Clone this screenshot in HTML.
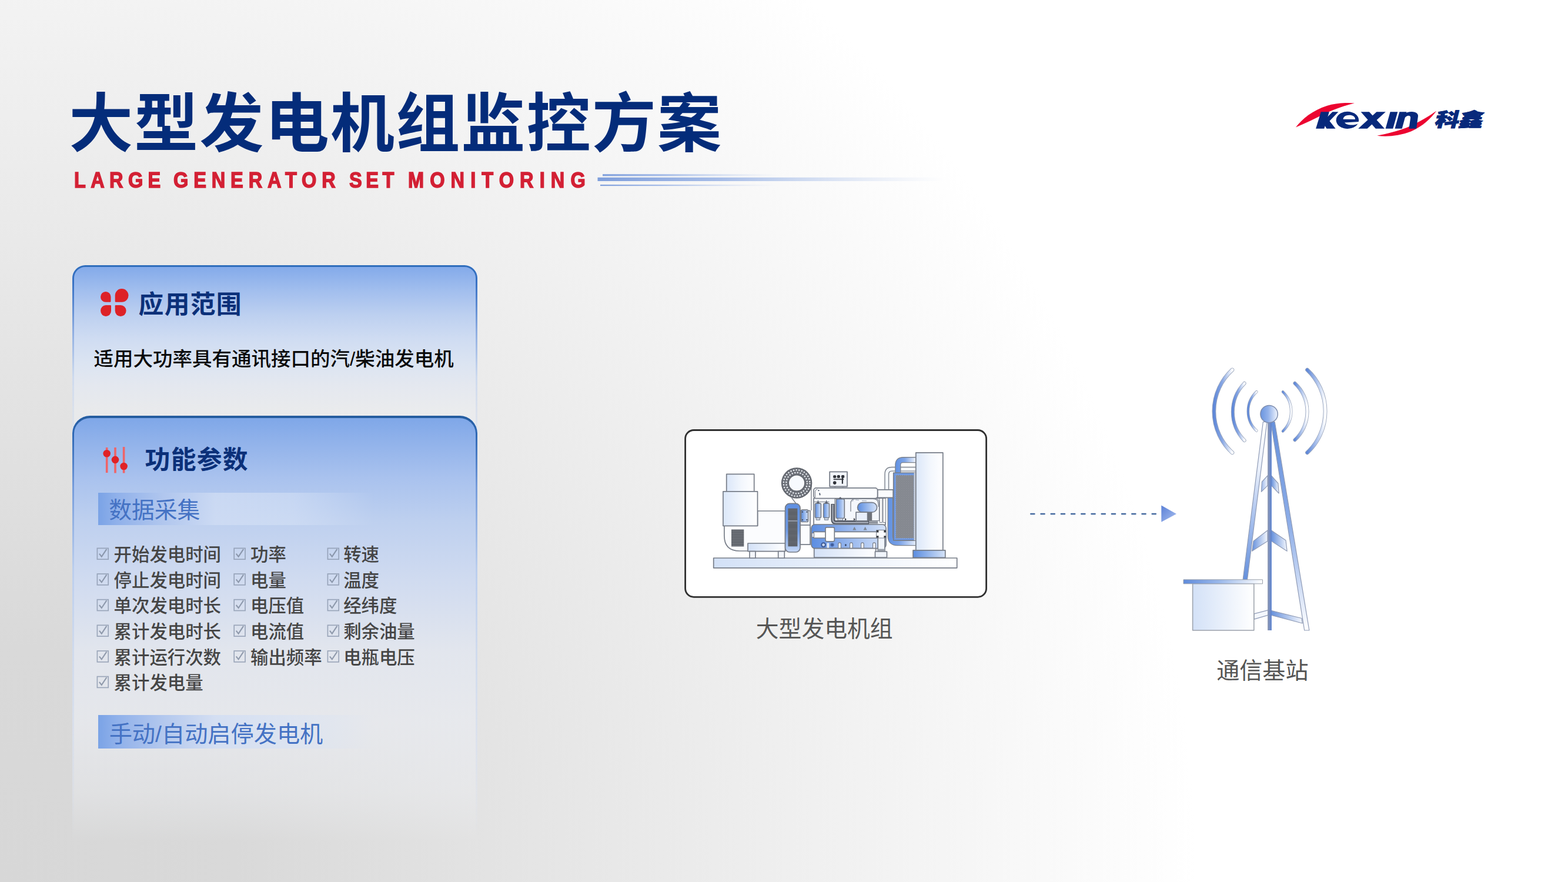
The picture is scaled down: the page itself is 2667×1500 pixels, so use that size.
<!DOCTYPE html>
<html lang="zh-CN">
<head>
<meta charset="utf-8">
<title>大型发电机组监控方案 - Large Generator Set Monitoring</title>
<style>
html,body{margin:0;padding:0;background:#fff}
body{width:2667px;height:1500px;overflow:hidden;font-family:"Liberation Sans",sans-serif}
#slide{position:relative;width:2667px;height:1500px;overflow:hidden;
 background:radial-gradient(circle at 0 1500px,#d7d7d7 0,#d9d9d9 400px,#ffffff 2035px)}
.layer{position:absolute;left:0;top:0;width:2667px;height:1500px;pointer-events:none}
.tl{position:absolute;white-space:nowrap;line-height:1;color:transparent;font-family:"Liberation Sans","Noto Sans CJK SC",sans-serif;margin:0}
.sub{position:absolute;left:0;top:285.6px;margin:0;font-family:"Liberation Sans",sans-serif;font-weight:bold;
 font-size:37px;line-height:42px;color:#d32034;-webkit-text-stroke:1.5px #d32034;white-space:nowrap}
.sub span{position:absolute;top:0;transform:scaleX(.88);transform-origin:0 0}
.panel{position:absolute;left:123.2px;width:689px;box-sizing:border-box;border-radius:22px 22px 0 0}
.panel::before{content:"";position:absolute;inset:0;border-radius:inherit;padding:3.4px 3px 0 3px;
 background:linear-gradient(180deg,#2e6dbb 0,#3a72c4 30px,rgba(90,135,210,.55) 120px,rgba(160,190,235,.4) 260px,rgba(190,208,240,.3) 70%,rgba(200,215,240,0) 94%);
 -webkit-mask:linear-gradient(#000 0 0) content-box,linear-gradient(#000 0 0);-webkit-mask-composite:xor;mask:linear-gradient(#000 0 0) content-box exclude,linear-gradient(#000 0 0)}
#p1{top:450.5px;height:300px;
 background:linear-gradient(180deg,#7fa7e9 0,#85abea 5px,#a3bfee 45px,#bdd0f0 85px,#cfdcf2 125px,#dbe4f2 165px,rgba(228,232,240,.92) 205px,rgba(234,236,239,.75) 245px,rgba(236,237,240,.55) 300px)}
#p1::before{background:linear-gradient(180deg,#2e6dbb 0,#3a72c4 30px,rgba(90,135,210,.55) 110px,rgba(170,195,235,.35) 190px,rgba(205,215,235,.3) 100%)}
#p2{top:706.8px;height:760px;border-radius:30px 30px 0 0;
 background:linear-gradient(180deg,#7da6e8 0,#8fb1ea 40px,#a9c2ee 105px,#bed0ef 180px,#d0dbf0 280px,rgba(226,230,238,.95) 400px,rgba(232,234,239,.8) 520px,rgba(236,238,242,.4) 640px,rgba(238,238,240,0) 725px)}
.bar{position:absolute;left:166.6px;height:55px;
 background:linear-gradient(90deg,#7aa3e6 0,#8fb0ea 30px,rgba(176,198,238,.95) 110px,rgba(208,221,244,.8) 200px,rgba(214,226,246,.55) 330px,rgba(220,230,246,0) 470px)}
#b1{top:838px;width:480px}
#b2{top:1215.5px;width:480px;height:57px}
#p2::before{padding:3.8px 2.6px 0 2.6px;background:linear-gradient(180deg,#245c9e 0,#2f68b4 30px,rgba(80,128,205,.6) 120px,rgba(160,190,235,.4) 260px,rgba(190,208,240,.3) 70%,rgba(200,215,240,0) 94%)}
</style>
</head>
<body>
<div id="slide">
<div class="panel" id="p1"></div>
<div class="panel" id="p2"></div>
<div class="bar" id="b1"></div>
<div class="bar" id="b2"></div>
<svg class="layer" width="2667" height="1500" viewBox="0 0 2667 1500"><defs>
<linearGradient id="ln" x1="0" x2="1"><stop offset="0" stop-color="#7f9fdc"/><stop offset=".35" stop-color="#9db6e6" stop-opacity=".9"/><stop offset="1" stop-color="#c8d6f0" stop-opacity="0"/></linearGradient>
<linearGradient id="lb" x1="0" x2="1"><stop offset="0" stop-color="#d3e1f7"/><stop offset="1" stop-color="#ffffff"/></linearGradient>
<linearGradient id="lb2" x1="0" x2="1"><stop offset="0" stop-color="#dbe7f9"/><stop offset=".55" stop-color="#f3f7fd"/><stop offset="1" stop-color="#ffffff"/></linearGradient>
<linearGradient id="bl" x1="0" x2="1"><stop offset="0" stop-color="#5a8ce0"/><stop offset="1" stop-color="#d5e3f8"/></linearGradient>
<linearGradient id="blv" x1="0" x2="0" y1="0" y2="1"><stop offset="0" stop-color="#5f90e2"/><stop offset=".55" stop-color="#6e9ae4"/><stop offset="1" stop-color="#c6d8f6"/></linearGradient>
<linearGradient id="blk" x1="0" x2="1"><stop offset="0" stop-color="#5b8de1"/><stop offset=".35" stop-color="#84a9ea"/><stop offset="1" stop-color="#d4e2f8"/></linearGradient>
<linearGradient id="pipeU" gradientUnits="userSpaceOnUse" x1="1523" x2="1558" y1="0" y2="0"><stop offset="0" stop-color="#5f90e2"/><stop offset=".45" stop-color="#7ea5e8"/><stop offset="1" stop-color="#f2f6fd"/></linearGradient>
<linearGradient id="pipeL" gradientUnits="userSpaceOnUse" x1="1510" x2="1558" y1="0" y2="0"><stop offset="0" stop-color="#5f90e2"/><stop offset=".4" stop-color="#79a1e7"/><stop offset="1" stop-color="#e6eefb"/></linearGradient>
<linearGradient id="ah" x1="0" x2="1" y1="0" y2="1"><stop offset="0" stop-color="#5a80d6"/><stop offset="1" stop-color="#a9bff0"/></linearGradient>
<linearGradient id="tw" x1="0" x2="1"><stop offset="0" stop-color="#6590dc"/><stop offset="1" stop-color="#f4f7fd"/></linearGradient>
<linearGradient id="twr" x1="0" x2="1"><stop offset="0" stop-color="#9bb7ea"/><stop offset="1" stop-color="#f4f7fd"/></linearGradient>
<linearGradient id="ball" x1="0" x2="1"><stop offset="0" stop-color="#6a95e0"/><stop offset=".45" stop-color="#93b2ea"/><stop offset="1" stop-color="#f1f5fd"/></linearGradient>
<linearGradient id="wv" x1="0" x2="1"><stop offset="0" stop-color="#5f88d8"/><stop offset=".45" stop-color="#86a6e4"/><stop offset="1" stop-color="#ffffff"/></linearGradient>
<linearGradient id="wv2" x1="0" x2="1"><stop offset="0" stop-color="#5f88d8"/><stop offset=".5" stop-color="#a9c0ec"/><stop offset="1" stop-color="#ffffff"/></linearGradient>
<linearGradient id="legL" x1="0" x2="0" y1="0" y2="1"><stop offset="0" stop-color="#ffffff"/><stop offset=".3" stop-color="#eaf0fb"/><stop offset=".6" stop-color="#aac2ee"/><stop offset="1" stop-color="#6590dc"/></linearGradient>
<linearGradient id="legR" x1="0" x2="0" y1="0" y2="1"><stop offset="0" stop-color="#6590dc"/><stop offset=".5" stop-color="#8eaee8"/><stop offset="1" stop-color="#ffffff"/></linearGradient>
<linearGradient id="mast" x1="0" x2="1"><stop offset="0" stop-color="#8f99b1"/><stop offset=".45" stop-color="#7a8fc0"/><stop offset="1" stop-color="#5a83d2"/></linearGradient>
<linearGradient id="roof" x1="0" x2="1"><stop offset="0" stop-color="#5f8bdc"/><stop offset=".45" stop-color="#9ab8ea"/><stop offset="1" stop-color="#ffffff"/></linearGradient>
<linearGradient id="wvL" x1="0" x2="0" y1="0" y2="1"><stop offset="0" stop-color="#dfe8f8"/><stop offset=".5" stop-color="#6f95dc"/><stop offset="1" stop-color="#9cb7e8"/></linearGradient>
<linearGradient id="wvR" x1="0" x2="0" y1="0" y2="1"><stop offset="0" stop-color="#6f95dc"/><stop offset=".5" stop-color="#e3ebf9"/><stop offset="1" stop-color="#6f95dc"/></linearGradient>
<pattern id="hatch" width="3" height="3" patternUnits="userSpaceOnUse"><rect width="3" height="3" fill="#7b7f86"/><path d="M0 0l3 3M3 0l-3 3" stroke="#9a9ea6" stroke-width=".6"/></pattern>
<pattern id="stripe" width="4" height="2.9" patternUnits="userSpaceOnUse"><rect width="4" height="2.9" fill="#5b5f66"/><rect y="2.2" width="4" height=".7" fill="#8c9097"/></pattern>
<pattern id="stripe2" width="4" height="2.2" patternUnits="userSpaceOnUse"><rect width="4" height="2.2" fill="#595d64"/><rect y="1.7" width="4" height=".5" fill="#777b83"/></pattern>
</defs><g>
<rect x="1025" y="296.2" width="300" height="3.2" fill="url(#ln)"/>
<rect x="1016.5" y="301.8" width="590" height="6.2" fill="url(#ln)"/>
<rect x="1021" y="314" width="300" height="2.2" fill="url(#ln)"/>
</g><g>
<path d="M2203.900 216.600C2215 202 2232 188 2257.500 179.700C2272 175.500 2290 174 2303.900 175.500C2288 179 2270 185.500 2253 193.600C2236 202 2220 210 2203.900 216.600Z" fill="#ec0430"/>
<path d="M2342.200 230.800C2360 233 2380 231 2400 223.500C2420 215 2434 201 2443.300 188.600C2430 198 2414 208 2394 216.500C2376 223.500 2358 227.500 2342.200 230.800Z" fill="#ec0430"/>
<g transform="translate(2195 165) scale(.08929)" fill="#08297b">
<path d="M483 602L642 602L738 283L580 283Z"/>
<path d="M655 428L800 283L912 283L742 458Z"/>
<path d="M700 400L858 602L688 602L612 472Z"/>
<ellipse cx="1085" cy="441" rx="216" ry="163"/>
<path d="M1003 424C1003 372 1058 345 1120 345C1188 345 1236 378 1230 426Z" fill="#fff"/>
<path d="M1312 470L1032 488C1066 540 1205 548 1300 504Z" fill="#fff"/>
<path d="M1290 602L1640 283L1812 283L1462 602Z"/>
<path d="M1340 283L1500 283L1792 602L1622 602Z"/>
<path d="M1810 602L1952 602L2042 283L1900 283Z"/>
<path d="M1988 602L2124 602L2212 283L2076 283Z"/>
<path d="M2160 330C2210 290 2270 278 2330 282C2410 288 2440 330 2428 380L2398 602L2256 602L2286 400C2290 370 2270 352 2240 356C2215 360 2195 375 2180 395Z"/>
</g>
</g><g fill="#dd2227"><path d="M179.8 495.9H179.8A8.7 8.9 0 0 1 188.5 504.8V512.6A1.2 1.2 0 0 1 187.3 513.8H179.8A8.7 8.9 0 0 1 171.1 504.9V504.8A8.7 8.9 0 0 1 179.8 495.9Z"/><path d="M207.1 491.1H207.1A11.4 11.3 0 0 1 218.5 502.4V502.5A11.4 11.3 0 0 1 207.1 513.8H196.9A1.2 1.2 0 0 1 195.7 512.6V502.4A11.4 11.3 0 0 1 207.1 491.1Z"/><path d="M180.0 519.1H187.8A1.2 1.2 0 0 1 189.0 520.3V528.6A8.9 9.4 0 0 1 180.1 538.0H180.0A8.9 9.4 0 0 1 171.1 528.6V528.5A8.9 9.4 0 0 1 180.0 519.1Z"/><path d="M196.9 519.1H205.2A9.4 9.4 0 0 1 214.6 528.5V528.6A9.4 9.4 0 0 1 205.2 538.0H205.1A9.4 9.4 0 0 1 195.7 528.6V520.3A1.2 1.2 0 0 1 196.9 519.1Z"/></g>
<g>
<path d="M181.700 761V804M196 761V804.500M210.600 760V804.500" stroke="#ef6468" stroke-width="3.600" fill="none"/>
<circle cx="181.700" cy="771.200" r="6.300" fill="#e02226"/><circle cx="196" cy="781.900" r="6.300" fill="#e02226"/><circle cx="210.600" cy="793" r="6.300" fill="#e02226"/>
</g><g transform="translate(164.6 931.6)" fill="none" stroke="#8a97ad" opacity=".8"><rect x=".8" y=".8" width="18.8" height="18.8" stroke-width="1.7"/><path d="M4.3 10.1l3.9 5L16.8 2.2" stroke-width="2.1" stroke="#7c889c"/></g><g transform="translate(397.4 931.6)" fill="none" stroke="#8a97ad" opacity=".8"><rect x=".8" y=".8" width="18.8" height="18.8" stroke-width="1.7"/><path d="M4.3 10.1l3.9 5L16.8 2.2" stroke-width="2.1" stroke="#7c889c"/></g><g transform="translate(556.6 931.6)" fill="none" stroke="#8a97ad" opacity=".8"><rect x=".8" y=".8" width="18.8" height="18.8" stroke-width="1.7"/><path d="M4.3 10.1l3.9 5L16.8 2.2" stroke-width="2.1" stroke="#7c889c"/></g><g transform="translate(164.6 975.2)" fill="none" stroke="#8a97ad" opacity=".8"><rect x=".8" y=".8" width="18.8" height="18.8" stroke-width="1.7"/><path d="M4.3 10.1l3.9 5L16.8 2.2" stroke-width="2.1" stroke="#7c889c"/></g><g transform="translate(397.4 975.2)" fill="none" stroke="#8a97ad" opacity=".8"><rect x=".8" y=".8" width="18.8" height="18.8" stroke-width="1.7"/><path d="M4.3 10.1l3.9 5L16.8 2.2" stroke-width="2.1" stroke="#7c889c"/></g><g transform="translate(556.6 975.2)" fill="none" stroke="#8a97ad" opacity=".8"><rect x=".8" y=".8" width="18.8" height="18.8" stroke-width="1.7"/><path d="M4.3 10.1l3.9 5L16.8 2.2" stroke-width="2.1" stroke="#7c889c"/></g><g transform="translate(164.6 1018.9)" fill="none" stroke="#8a97ad" opacity=".8"><rect x=".8" y=".8" width="18.8" height="18.8" stroke-width="1.7"/><path d="M4.3 10.1l3.9 5L16.8 2.2" stroke-width="2.1" stroke="#7c889c"/></g><g transform="translate(397.4 1018.9)" fill="none" stroke="#8a97ad" opacity=".8"><rect x=".8" y=".8" width="18.8" height="18.8" stroke-width="1.7"/><path d="M4.3 10.1l3.9 5L16.8 2.2" stroke-width="2.1" stroke="#7c889c"/></g><g transform="translate(556.6 1018.9)" fill="none" stroke="#8a97ad" opacity=".8"><rect x=".8" y=".8" width="18.8" height="18.8" stroke-width="1.7"/><path d="M4.3 10.1l3.9 5L16.8 2.2" stroke-width="2.1" stroke="#7c889c"/></g><g transform="translate(164.6 1062.5)" fill="none" stroke="#8a97ad" opacity=".8"><rect x=".8" y=".8" width="18.8" height="18.8" stroke-width="1.7"/><path d="M4.3 10.1l3.9 5L16.8 2.2" stroke-width="2.1" stroke="#7c889c"/></g><g transform="translate(397.4 1062.5)" fill="none" stroke="#8a97ad" opacity=".8"><rect x=".8" y=".8" width="18.8" height="18.8" stroke-width="1.7"/><path d="M4.3 10.1l3.9 5L16.8 2.2" stroke-width="2.1" stroke="#7c889c"/></g><g transform="translate(556.6 1062.5)" fill="none" stroke="#8a97ad" opacity=".8"><rect x=".8" y=".8" width="18.8" height="18.8" stroke-width="1.7"/><path d="M4.3 10.1l3.9 5L16.8 2.2" stroke-width="2.1" stroke="#7c889c"/></g><g transform="translate(164.6 1106.2)" fill="none" stroke="#8a97ad" opacity=".8"><rect x=".8" y=".8" width="18.8" height="18.8" stroke-width="1.7"/><path d="M4.3 10.1l3.9 5L16.8 2.2" stroke-width="2.1" stroke="#7c889c"/></g><g transform="translate(397.4 1106.2)" fill="none" stroke="#8a97ad" opacity=".8"><rect x=".8" y=".8" width="18.8" height="18.8" stroke-width="1.7"/><path d="M4.3 10.1l3.9 5L16.8 2.2" stroke-width="2.1" stroke="#7c889c"/></g><g transform="translate(556.6 1106.2)" fill="none" stroke="#8a97ad" opacity=".8"><rect x=".8" y=".8" width="18.8" height="18.8" stroke-width="1.7"/><path d="M4.3 10.1l3.9 5L16.8 2.2" stroke-width="2.1" stroke="#7c889c"/></g><g transform="translate(164.6 1149.8)" fill="none" stroke="#8a97ad" opacity=".8"><rect x=".8" y=".8" width="18.8" height="18.8" stroke-width="1.7"/><path d="M4.3 10.1l3.9 5L16.8 2.2" stroke-width="2.1" stroke="#7c889c"/></g><g stroke-linejoin="round">
<rect x="1165.600" y="731.500" width="512" height="283.800" rx="14.500" fill="#fff" stroke="#303030" stroke-width="2.800"/>
<g stroke="#777d88" stroke-width="1.700">
<!-- base plate -->
<rect x="1213.700" y="949" width="414" height="16.800" fill="url(#lb)"/>
<!-- alternator -->
<path d="M1288.500 869H1335.600V937H1258Q1231.900 937 1231.900 911V894H1288.500Z" fill="#fbfcfe"/>
<rect x="1235.700" y="806.300" width="47" height="29.600" fill="url(#lb2)"/>
<rect x="1229.900" y="835.900" width="58.600" height="58.400" fill="url(#lb2)"/>
<rect x="1244" y="900.400" width="21.300" height="29" fill="url(#stripe)" stroke="none"/>
<rect x="1272" y="924" width="63.500" height="13.600" fill="url(#lb)"/>
<rect x="1275" y="937.600" width="10" height="11.400" fill="#f4f7fc"/>
<rect x="1323.700" y="937.600" width="10.600" height="11.400" fill="#f4f7fc"/>
<!-- ring + lines -->
<path d="M1346.500 846.500L1354.800 857.500M1379.900 825V868" fill="none" stroke-width="1.300"/>
<rect x="1361" y="868.500" width="17" height="57.700" fill="#fbfcfe"/>
<path d="M1361 893H1378" fill="none"/>
<circle cx="1355.100" cy="821.500" r="25.600" fill="#6c7078" stroke="#5a5e66" stroke-width="1.200"/>
<circle cx="1355.100" cy="821.500" r="22.300" fill="none" stroke="#e9ecf1" stroke-width="2.300" stroke-dasharray="2.300 2.370"/>
<circle cx="1355.100" cy="821.500" r="17.800" fill="none" stroke="#e9ecf1" stroke-width="2.300" stroke-dasharray="2.300 2.360"/>
<circle cx="1355.100" cy="821.500" r="13.700" fill="#f7fafe" stroke="#5a5e66" stroke-width="1.200"/>
<!-- flywheel housing -->
<rect x="1335.600" y="856.400" width="25.400" height="82.600" rx="7.500" fill="url(#blv)"/>
<rect x="1340.400" y="864.700" width="16" height="64.600" fill="url(#stripe2)" stroke="none"/>
<rect x="1340.400" y="885.300" width="16" height="1.300" fill="#aeb6c6" stroke="none"/>
<rect x="1362.600" y="867.200" width="12" height="20.300" rx="2" fill="url(#bl)"/>
<path d="M1363.800 869.500h2.200v2.200h-2.200zM1371.300 869.500h2.200v2.200h-2.200zM1363.800 883h2.200v2.200h-2.200zM1371.300 883h2.200v2.200h-2.200z" fill="#4a5568" stroke="none"/>
<!-- radiator pipes -->
<path d="M1557.800 797.800H1517Q1508.300 797.800 1508.300 806.500V834" fill="none" stroke="#7c828c" stroke-width="8"/>
<path d="M1557.800 797.800H1517Q1508.300 797.800 1508.300 806.500V834" fill="none" stroke="#f5f8fd" stroke-width="5.200"/>
<path d="M1557.800 782.200H1536Q1527.300 782.200 1527.300 791V806" fill="none" stroke="#7c828c" stroke-width="10.200"/>
<path d="M1557.800 782.200H1536Q1527.300 782.200 1527.300 791V806" fill="none" stroke="url(#pipeU)" stroke-width="7.600"/>
<path d="M1514.300 846V912Q1514.300 923.400 1526 923.400H1557.800" fill="none" stroke="#7c828c" stroke-width="9.600"/>
<path d="M1514.300 846V912Q1514.300 923.400 1526 923.400H1557.800" fill="none" stroke="url(#pipeL)" stroke-width="7"/>
<!-- engine -->
<rect x="1384" y="847.500" width="122" height="45" fill="#f6f9fd"/>
<rect x="1496.200" y="847.500" width="4.500" height="41" fill="#fff" stroke-width="1"/>
<rect x="1502" y="847.500" width="4.500" height="41" fill="#fff" stroke-width="1"/>
<rect x="1492.600" y="832.800" width="26.600" height="13.600" fill="#fbfcfe"/>
<rect x="1384" y="829.900" width="108.600" height="17.600" rx="4" fill="#fbfcfe"/>
<path d="M1386.500 846V836Q1386.500 832 1390.500 832" fill="none" stroke-width="1"/>
<path d="M1391.500 833.500l1.800 1.200M1394 838.500l.8 3.800" stroke="#4a5568" stroke-width="1.800" fill="none"/>
<rect x="1411.200" y="802.300" width="29.800" height="25.200" fill="#f2f5fa" stroke-width="1.800"/>
<g fill="#30333a" stroke="none"><rect x="1417.100" y="808.300" width="5.200" height="4.600" rx="1.600"/><rect x="1423.700" y="808.100" width="5.200" height="4.800" rx="1.600"/><rect x="1431" y="807.900" width="5.200" height="5" rx="1.600"/><rect x="1417.700" y="814" width="17.300" height="2.200" fill="#55585f"/><circle cx="1419.700" cy="821.100" r="2.800"/><rect x="1431.800" y="812.700" width="2.200" height="10"/></g>
<path d="M1418.700 827.500h3v3h-3zM1432.200 827.500h3v3h-3z" fill="#8d929b" stroke="none"/>
<path d="M1420 848.500H1489Q1495.500 848.500 1495.500 855V885.500H1420Z" fill="#f4f7fc" stroke-width="1.200"/>
<rect x="1476" y="886.300" width="17.200" height="4.400" fill="#8e939c" stroke="none"/>
<path d="M1416.500 857V883.500Q1416.500 888.700 1421.700 888.700H1478" fill="none" stroke="#4c515c" stroke-width="6.200"/>
<path d="M1416.500 858V883.500Q1416.500 888.700 1421.700 888.700H1477" fill="none" stroke="#a4aab6" stroke-width="2.400"/>
<rect x="1386.400" y="856.200" width="10" height="24.300" rx="1.500" fill="url(#bl)"/>
<rect x="1400.700" y="856.200" width="9.800" height="24.300" rx="1.500" fill="url(#bl)"/>
<path d="M1388.200 880.500h6.400v3.800h-6.400zM1402.400 880.500h6.400v3.800h-6.400z" fill="#c9d3e3" stroke-width="1"/>
<path d="M1391.400 850.500l2.600 5.500h-5.200zM1405.600 850.500l2.600 5.500h-5.200z" fill="#5a6170" stroke="none"/>
<path d="M1384 853.500h26.500" fill="none" stroke-width="1"/>
<rect x="1422.200" y="848.600" width="14.100" height="33" rx="2.500" fill="url(#bl)"/>
<path d="M1429.200 845l3.400 3.600h-6.800z" fill="#5a6170" stroke="none"/>
<path d="M1425 881.600h8.500v3.400h-8.500z" fill="#d4dcea" stroke-width="1"/>
<path d="M1437 881l3 2.300-3 2.300zM1452 881l3 2.300-3 2.300z" fill="#33373e" stroke="none"/>
<path d="M1447 870V856Q1447 848.500 1455 848.500H1485Q1494 848.500 1494 857V862" fill="none" stroke-width="1.200"/>
<path d="M1449 852.500l3-1.600M1455 850l6 .6M1466 851.500l8 .3" stroke="#9aa3b3" stroke-width="1" fill="none"/>
<rect x="1458.600" y="854.600" width="33" height="16.600" rx="8.300" fill="url(#bl)"/>
<rect x="1456" y="871.200" width="19.600" height="14.600" fill="#e9effa"/>
<rect x="1475.600" y="871.200" width="7.600" height="14.600" fill="#6f737b" stroke="none"/>
<!-- lower block -->
<rect x="1380" y="892" width="127" height="40.600" rx="6" fill="url(#blk)"/>
<rect x="1384" y="904.400" width="108" height="10.600" fill="#fdfeff"/>
<rect x="1381" y="906.500" width="3.600" height="7" fill="#e6ecf6" stroke-width="1"/>
<rect x="1404" y="896.800" width="15.300" height="24" rx="2.200" fill="#fdfeff"/>
<path d="M1453.300 895.800l3 5.600h-6zM1471.600 895.800l3 5.600h-6z" fill="#7f8794" stroke="none"/>
<circle cx="1400.600" cy="926.600" r="3.400" fill="#c9d6ee" stroke="#3d5a96" stroke-width="2"/>
<circle cx="1415.500" cy="926.600" r="2.600" fill="#3d5a96" stroke="#4f70b4" stroke-width="1.200"/>
<rect x="1406.500" y="923.500" width="3.600" height="8.500" fill="#e6ecf6" stroke="none"/>
<path d="M1425.800 932.500v-7.300a2.300 2.300 0 0 1 4.600 0v7.300M1445.600 932.500v-7.300a2.300 2.300 0 0 1 4.600 0v7.300M1464.600 932.500v-7.300a2.300 2.300 0 0 1 4.600 0v7.300M1484.600 932.500v-7.300a2.300 2.300 0 0 1 4.600 0v7.300" fill="#f4f7fd" stroke-width="1.200"/>
<rect x="1437.200" y="925.500" width="2.400" height="3" fill="#33405e" stroke="none"/>
<rect x="1384.700" y="932.600" width="105" height="15.400" fill="url(#lb)"/>
<!-- vertical pipe -->
<rect x="1493.200" y="903" width="11.800" height="35" fill="#f1f5fb"/>
<rect x="1490.600" y="901.500" width="16.600" height="13.500" fill="#fbfcfe" stroke-width="1"/>
<path d="M1491 902h3.400v3.400h-3.400zM1503.400 902h3.400v3.400h-3.400zM1491 911.200h3.400v3.400h-3.400zM1503.400 911.200h3.400v3.400h-3.400z" fill="#33373e" stroke="none"/>
<rect x="1493.200" y="933.600" width="11.800" height="4.400" fill="#9aa0aa" stroke="none"/>
<rect x="1488.500" y="938" width="20" height="10" fill="#f1f5fb"/>
<!-- radiator -->
<rect x="1519.700" y="804" width="38.100" height="115" fill="#6d98e3"/>
<rect x="1523.600" y="808" width="31" height="107.500" fill="url(#hatch)" stroke="#8fa9d8" stroke-width=".8" stroke-dasharray="2 1.500"/>
<rect x="1554.600" y="804" width="3.200" height="115" fill="#c8ced8" stroke="none"/>
<rect x="1557.800" y="769.800" width="46" height="166" fill="url(#lb2)"/>
<rect x="1553" y="935.800" width="54.800" height="12.600" fill="url(#bl)"/>
</g>
</g><g>
<path d="M1753.300 874H1968" stroke="#44699f" stroke-width="2.500" stroke-dasharray="6.100 11.100" stroke-linecap="round" fill="none"/>
<path d="M1975.300 859.600L2001 874L1975.300 887.800Z" fill="url(#ah)"/>
</g><g stroke-linejoin="round">
<!-- waves -->
<g fill="none" stroke-linecap="round">
<g stroke="#9aa6bd">
<path d="M2095.900 629A95.400 95.400 0 0 0 2095.900 769.800" stroke-width="6.800"/>
<path d="M2116.600 651.800A69.700 69.700 0 0 0 2116.600 749.100" stroke-width="6"/>
<path d="M2137.300 666.300A45.200 45.200 0 0 0 2137.300 732.500" stroke-width="4.600"/>
<path d="M2182 666.300A46.800 46.800 0 0 1 2182 733.300" stroke-width="4.600"/>
<path d="M2202.400 651.800A65.600 65.600 0 0 1 2202.400 748.200" stroke-width="6"/>
<path d="M2223.500 629A96.300 96.300 0 0 1 2223.500 769.800" stroke-width="6.800"/>
</g>
<path d="M2095.900 629A95.400 95.400 0 0 0 2095.900 769.800" stroke="url(#wv)" stroke-width="5"/>
<path d="M2116.600 651.800A69.700 69.700 0 0 0 2116.600 749.100" stroke="url(#wv)" stroke-width="4.300"/>
<path d="M2137.300 666.300A45.200 45.200 0 0 0 2137.300 732.500" stroke="url(#wv)" stroke-width="3.100"/>
<path d="M2182 666.300A46.800 46.800 0 0 1 2182 733.300" stroke="url(#wv2)" stroke-width="3.100"/>
<path d="M2202.400 651.800A65.600 65.600 0 0 1 2202.400 748.200" stroke="url(#wv2)" stroke-width="4.300"/>
<path d="M2223.500 629A96.300 96.300 0 0 1 2223.500 769.800" stroke="url(#wv2)" stroke-width="5"/>
</g>
<g stroke="#8f9bb6" stroke-width="1.200">
<!-- braces -->
<path d="M2146.400 819.500L2156 808.800V825.900L2145.400 836.400Z" fill="url(#twr)"/>
<path d="M2162.500 808.800L2173.900 822L2175.200 839L2162.500 825.900Z" fill="url(#tw)"/>
<path d="M2132 920.300L2156 901.900V920.300L2129.600 937.300Z" fill="url(#tw)"/>
<path d="M2162.500 901.900L2187 919L2189.100 937.300L2162.500 920.300Z" fill="url(#tw)"/>
<path d="M2133 1043.800L2157 1037.600V1046.200L2133 1053.200Z" fill="#f4f7fd"/>
<path d="M2162 1038.400L2214 1051.500L2215.200 1060L2162 1046.200Z" fill="url(#tw)"/>
<!-- legs -->
<path d="M2148.400 717.500L2155 717.500L2121.500 985.800L2114.100 985.800Z" fill="url(#legL)"/>
<path d="M2161.500 717.500L2168.200 717.500L2226.900 1072L2218.700 1072Z" fill="url(#legR)"/>
<!-- mast -->
<rect x="2156.100" y="716" width="6.800" height="356" fill="url(#mast)" stroke="none"/>
<circle cx="2158.600" cy="704.200" r="14.700" fill="url(#ball)" stroke="#7e8dae" stroke-width="1.500"/>
</g>
<rect x="2028.600" y="992.500" width="104.200" height="79.500" fill="url(#lb)" stroke="#9aa0aa" stroke-width="1.500"/>
<rect x="2013" y="985.800" width="134.500" height="7" fill="url(#roof)" stroke="#9aa0aa" stroke-width="1"/>
</g></svg>
<svg class="layer" width="2667" height="1500" viewBox="0 0 2667 1500" aria-hidden="true" font-family='"Liberation Sans","Noto Sans CJK SC",sans-serif'>
<text x="117.18" y="249.04" font-size="109" font-weight="700" letter-spacing="2.2" fill="#042c7a">大型发电机组监控方案</text>
<text x="235.57" y="532.75" font-size="42.8" font-weight="600" letter-spacing="1.3" fill="#0b3079">应用范围</text>
<text x="159.43" y="622.21" font-size="33.5" font-weight="500" fill="#0a0a0a">适用大功率具有通讯接口的汽/柴油发电机</text>
<text x="246.58" y="797.16" font-size="42.8" font-weight="600" letter-spacing="1.3" fill="#0b3079">功能参数</text>
<text x="185.19" y="880.80" font-size="38.8" font-weight="400" fill="#4472c4">数据采集</text>
<g font-size="30.4" font-weight="500" fill="#454545">
<text x="193.60" y="953.99">开始发电时间</text>
<text x="426.00" y="953.99">功率</text>
<text x="584.20" y="953.99">转速</text>
<text x="193.60" y="997.64">停止发电时间</text>
<text x="426.00" y="997.64">电量</text>
<text x="584.20" y="997.64">温度</text>
<text x="193.60" y="1041.29">单次发电时长</text>
<text x="426.00" y="1041.29">电压值</text>
<text x="584.20" y="1041.29">经纬度</text>
<text x="193.60" y="1084.94">累计发电时长</text>
<text x="426.00" y="1084.94">电流值</text>
<text x="584.20" y="1084.94">剩余油量</text>
<text x="193.60" y="1128.59">累计运行次数</text>
<text x="426.00" y="1128.59">输出频率</text>
<text x="584.20" y="1128.59">电瓶电压</text>
<text x="193.60" y="1172.24">累计发电量</text>
</g>
<text x="185.70" y="1262.03" font-size="39.2" font-weight="400" fill="#4472c4">手动/自动启停发电机</text>
<text x="1285.79" y="1082.85" font-size="38.8" font-weight="400" fill="#555555">大型发电机组</text>
<text x="2069.20" y="1153.76" font-size="39.1" font-weight="400" fill="#555555">通信基站</text>
<text transform="translate(2438.88 214.78) skewX(-14) scale(1.29 1)" x="0" y="0" font-size="32" font-weight="900" letter-spacing="-0.5" fill="#08297b" stroke="#08297b" stroke-width="1.1" stroke-linejoin="round">科鑫</text>
</svg>
<p class="sub"><span style="left:126.30px;letter-spacing:9.48px">LARGE</span> <span style="left:295.10px;letter-spacing:10.05px">GENERATOR</span> <span style="left:593.70px;letter-spacing:7.49px">SET</span> <span style="left:694.40px;letter-spacing:11.45px">MONITORING</span></p>
<h1 class="tl" style="left:117.2px;top:153.1px;font-size:109.00px;letter-spacing:2.20px;font-weight:700">大型发电机组监控方案</h1>
<h2 class="tl" style="left:235.6px;top:495.1px;font-size:42.80px;letter-spacing:1.30px;font-weight:600">应用范围</h2>
<p class="tl" style="left:159.4px;top:592.7px;font-size:33.50px;letter-spacing:0.00px;font-weight:500">适用大功率具有通讯接口的汽/柴油发电机</p>
<h2 class="tl" style="left:246.6px;top:759.5px;font-size:42.80px;letter-spacing:1.30px;font-weight:600">功能参数</h2>
<h3 class="tl" style="left:185.2px;top:846.7px;font-size:38.80px;letter-spacing:0.00px;font-weight:400">数据采集</h3>
<p class="tl" style="left:193.6px;top:927.2px;font-size:30.40px;letter-spacing:0.00px;font-weight:500">开始发电时间</p>
<p class="tl" style="left:426.0px;top:927.2px;font-size:30.40px;letter-spacing:0.00px;font-weight:500">功率</p>
<p class="tl" style="left:584.2px;top:927.2px;font-size:30.40px;letter-spacing:0.00px;font-weight:500">转速</p>
<p class="tl" style="left:193.6px;top:970.9px;font-size:30.40px;letter-spacing:0.00px;font-weight:500">停止发电时间</p>
<p class="tl" style="left:426.0px;top:970.9px;font-size:30.40px;letter-spacing:0.00px;font-weight:500">电量</p>
<p class="tl" style="left:584.2px;top:970.9px;font-size:30.40px;letter-spacing:0.00px;font-weight:500">温度</p>
<p class="tl" style="left:193.6px;top:1014.5px;font-size:30.40px;letter-spacing:0.00px;font-weight:500">单次发电时长</p>
<p class="tl" style="left:426.0px;top:1014.5px;font-size:30.40px;letter-spacing:0.00px;font-weight:500">电压值</p>
<p class="tl" style="left:584.2px;top:1014.5px;font-size:30.40px;letter-spacing:0.00px;font-weight:500">经纬度</p>
<p class="tl" style="left:193.6px;top:1058.2px;font-size:30.40px;letter-spacing:0.00px;font-weight:500">累计发电时长</p>
<p class="tl" style="left:426.0px;top:1058.2px;font-size:30.40px;letter-spacing:0.00px;font-weight:500">电流值</p>
<p class="tl" style="left:584.2px;top:1058.2px;font-size:30.40px;letter-spacing:0.00px;font-weight:500">剩余油量</p>
<p class="tl" style="left:193.6px;top:1101.8px;font-size:30.40px;letter-spacing:0.00px;font-weight:500">累计运行次数</p>
<p class="tl" style="left:426.0px;top:1101.8px;font-size:30.40px;letter-spacing:0.00px;font-weight:500">输出频率</p>
<p class="tl" style="left:584.2px;top:1101.8px;font-size:30.40px;letter-spacing:0.00px;font-weight:500">电瓶电压</p>
<p class="tl" style="left:193.6px;top:1145.5px;font-size:30.40px;letter-spacing:0.00px;font-weight:500">累计发电量</p>
<h3 class="tl" style="left:185.7px;top:1227.5px;font-size:39.20px;letter-spacing:0.00px;font-weight:400">手动/自动启停发电机</h3>
<p class="tl" style="left:1285.8px;top:1048.7px;font-size:38.80px;letter-spacing:0.00px;font-weight:400">大型发电机组</p>
<p class="tl" style="left:2069.2px;top:1119.3px;font-size:39.10px;letter-spacing:0.00px;font-weight:400">通信基站</p>
<p class="tl" style="left:2438.9px;top:186.6px;font-size:32.00px;letter-spacing:-0.50px;font-weight:900">科鑫</p>
<p class="tl" style="left:2237px;top:184px;font-size:40px;font-weight:700;font-style:italic">Kexin</p>
</div>
</body>
</html>
